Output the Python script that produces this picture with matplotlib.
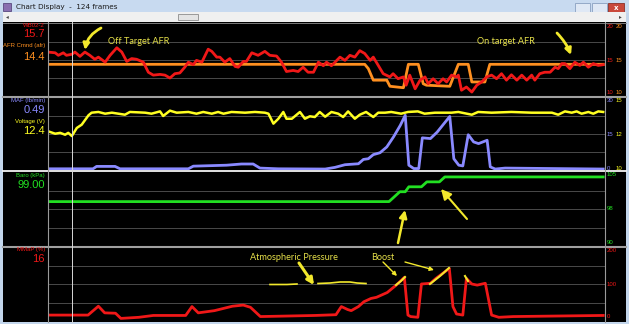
import matplotlib
matplotlib.use("Agg")
import matplotlib.pyplot as plt
import matplotlib.transforms as mtransforms
from matplotlib.patches import Rectangle, FancyArrowPatch
from matplotlib.lines import Line2D

W, H = 629, 324

# ---------------------------------------------------------------------------
# Logged data (frame index, value), read off the screenshot
wb_frames = [0, 1.6, 2.3, 3.4, 4.1, 5.3, 6.0, 7.1, 8.2, 9.3, 10.4, 11.2, 12.7, 13.8,
             15.3, 16.4, 17.5, 18.6, 19.7, 21.2, 22.3, 23.4, 24.9, 26.0, 27.1, 28.2,
             29.3, 30.4, 31.2, 32.3, 33.0, 34.2, 35.6, 36.4, 37.5, 38.2, 39.3, 40.4,
             41.6, 42.3, 43.4, 44.1, 45.3, 46.7, 48.2, 49.3, 50.8, 51.9, 53.0, 54.5,
             55.6, 56.7, 57.8, 59.0, 60.1, 61.2, 61.9, 63.0, 64.9, 66.0, 67.1, 68.2,
             69.3, 70.4, 71.6, 72.3, 73.4, 74.5, 76.0, 76.7, 77.8, 79.0, 79.6, 80.4,
             81.6, 82.7, 83.8, 84.5, 85.6, 86.7, 87.8, 88.6, 89.7, 90.8, 91.2, 91.9,
             93.0, 94.2, 95.3, 96.4, 97.5, 98.6, 99.7, 100.8, 101.9, 103.0, 104.2,
             105.3, 106.4, 107.5, 108.2, 109.3, 110.4, 111.6, 112.7, 113.4, 114.2,
             114.9, 116.0, 117.1, 118.2, 119.0, 120.1, 121.2, 122.3, 123.4]
wb_afr = [16.1, 16.0, 15.65, 16.0, 15.65, 15.8, 16.1, 15.5, 16.1, 15.65, 15.1, 15.4,
          14.7, 15.65, 16.7, 16.1, 14.8, 15.2, 15.1, 14.7, 13.3, 12.9, 13.0, 12.9,
          12.5, 13.1, 13.2, 14.0, 14.7, 14.35, 14.95, 14.7, 16.5, 16.2, 15.4, 15.4,
          14.7, 15.2, 14.1, 14.0, 14.8, 14.8, 16.0, 15.65, 16.2, 15.65, 15.55, 14.7,
          13.4, 13.55, 13.4, 14.0, 13.3, 13.3, 14.7, 14.2, 14.7, 14.2, 15.4, 14.95,
          15.65, 15.4, 16.3, 15.9, 14.95, 15.4, 14.25, 13.1, 12.65, 13.1, 12.4, 12.65,
          11.5, 12.9, 11.0, 12.2, 12.65, 11.7, 12.4, 11.7, 12.4, 11.95, 12.9, 12.65,
          12.9, 10.8, 11.25, 10.55, 11.5, 11.95, 12.65, 12.9, 12.4, 13.1, 12.2, 12.95,
          12.2, 12.9, 12.2, 12.9, 12.2, 13.1, 13.3, 13.3, 14.0, 13.8, 14.5, 14.5,
          13.8, 14.7, 14.25, 14.7, 14.0, 14.5, 14.25, 14.35]

cmd_frames = [0, 70.4, 71.2, 72.3, 75.3, 76.0, 79.0, 80.1, 82.3, 83.4, 84.1, 89.3,
              91.2, 93.4, 94.2, 97.1, 98.2, 123.4]
cmd_afr = [14.4, 14.4, 13.8, 12.2, 12.2, 11.35, 11.15, 14.4, 14.4, 11.7, 11.5, 11.35,
           14.4, 14.4, 11.95, 11.95, 14.4, 14.4]

volt_frames = [0, 1.6, 2.7, 3.8, 4.5, 5.3, 6.4, 7.5, 9.0, 9.7, 11.2, 12.7, 14.2, 17.1,
               18.2, 21.6, 23.0, 24.9, 25.6, 27.1, 28.6, 31.2, 33.0, 34.5, 36.4, 37.8,
               39.0, 40.8, 43.8, 46.0, 48.2, 49.0, 50.1, 51.2, 52.3, 53.0, 54.2, 56.0,
               57.1, 58.2, 59.3, 60.4, 61.6, 63.0, 64.5, 65.6, 66.7, 68.2, 69.3, 70.7,
               72.3, 73.4, 74.9, 76.3, 78.5, 80.0, 82.2, 83.7, 86.0, 89.7, 91.2, 94.2,
               95.6, 98.6, 103.0, 107.5, 112.0, 113.4, 114.9, 116.4, 117.5, 118.6,
               120.1, 121.2, 122.3, 123.4]
volt = [12.69, 12.52, 12.58, 12.45, 12.58, 12.36, 12.92, 13.15, 13.8, 13.98, 14.03,
        13.91, 13.98, 13.84, 14.03, 13.98, 13.91, 14.07, 13.75, 14.12, 13.98, 14.03,
        13.91, 14.03, 13.91, 14.03, 13.91, 14.03, 13.98, 14.03, 13.98, 13.91, 13.22,
        13.56, 14.03, 13.56, 13.56, 14.03, 13.56, 13.73, 13.68, 14.03, 13.7, 14.03,
        13.91, 13.68, 14.07, 13.56, 13.84, 14.03, 13.68, 13.98, 13.98, 14.03, 13.91,
        14.03, 14.07, 13.91, 13.98, 13.98, 14.03, 13.84, 14.03, 13.98, 14.03, 13.98,
        13.98, 13.84, 14.07, 13.98, 14.07, 13.91, 14.03, 13.91, 14.07, 14.03]

maf_frames = [0, 10.0, 10.8, 14.9, 16.0, 31.2, 32.3, 39.7, 43.0, 45.6, 47.1, 51.2,
              61.6, 63.8, 66.0, 69.0, 70.1, 71.2, 72.3, 73.8, 75.3, 76.8, 78.3, 79.4,
              80.2, 81.3, 82.4, 83.2, 85.0, 86.5, 88.0, 89.3, 90.2, 91.3, 92.2, 93.4,
              94.6, 95.7, 97.6, 98.3, 99.4, 101.6, 123.4]
maf = [0.5, 0.5, 1.5, 1.5, 0.5, 0.5, 1.6, 2.0, 2.5, 2.5, 0.8, 0.5, 0.4, 1.1, 2.2, 2.6,
       4.4, 4.7, 6.4, 7.2, 9.6, 13.8, 18.6, 22.8, 2.0, 0.6, 0.6, 13.4, 13.1, 15.8,
       19.3, 22.3, 4.7, 2.0, 1.7, 14.7, 11.7, 11.0, 12.4, 1.3, 0.4, 0.8, 0.4]

baro_frames = [0, 75.8, 78.2, 79.4, 80.2, 83.0, 84.2, 87.0, 88.2, 123.4]
baro = [99.0, 99.0, 101.0, 101.0, 102.0, 102.0, 103.0, 103.0, 104.0, 104.0]

map_frames = [0, 8.9, 11.2, 12.6, 15.0, 16.2, 20.2, 23.4, 30.6, 32.0, 33.4, 37.0,
              41.0, 43.4, 45.0, 47.2, 51.4, 59.4, 64.0, 65.2, 66.6, 67.4, 69.0, 70.2,
              71.8, 73.0, 75.4, 77.4, 79.2, 80.0, 80.6, 82.2, 83.0, 85.0, 86.2, 89.2,
              90.0, 90.8, 92.2, 93.0, 94.2, 95.4, 97.2, 98.6, 100.2, 103.4, 123.4]
map_val = [16, 16, 40, 22, 21, 7, 10, 15, 15, 39, 22, 28, 40, 43, 37, 12, 13, 15, 17,
           39, 31, 28, 39, 52, 61, 64, 77, 97, 118, 16, 12, 10, 100, 102, 115, 142, 39,
           19, 16, 115, 100, 97, 102, 16, 10, 12, 15]

RED, ORANGE, YELLOW, BLUE, GREEN = '#f01818', '#ff9020', '#ffff22', '#8a8aff', '#22e022'
GRID = '#4a4a4a'
ANNO = '#f2e82c'

###############################################################################
# Figure plus a transform that works in screenshot pixels (origin top-left)
fig = plt.figure(figsize=(W / 100, H / 100), dpi=100, facecolor='#c3d6ec')
px = mtransforms.Affine2D().scale(1 / W, -1 / H).translate(0, 1) + fig.transFigure


def rect(x0, y0, x1, y1, fc, ec='none', z=-5, lw=0.6):
    fig.add_artist(Rectangle((x0, y0), x1 - x0, y1 - y0, transform=px,
                             facecolor=fc, edgecolor=ec, lw=lw, zorder=z))


def line(xs, ys, color, lw=1.0, z=5):
    fig.add_artist(Line2D(xs, ys, transform=px, color=color, lw=lw, zorder=z))


def label(x, y, s, color, size, ha='right', **kw):
    fig.text(x, y, s, transform=px, color=color, fontsize=size, ha=ha,
             va='center', family='Liberation Sans', zorder=8, **kw)


# window chrome
rect(0, 0, W, 13, '#c8daf0')
rect(3, 3, 11, 11, '#8a6fb0', ec='#5a4a80')
fig.text(16, 6.5, 'Chart Display  -  124 frames', transform=px, fontsize=5.2,
         va='center', color='#1a1a1a', family='DejaVu Sans')
rect(575, 3, 590, 12, '#dfe8f5', ec='#8aa0c0')
rect(592, 3, 607, 12, '#dfe8f5', ec='#8aa0c0')
rect(608, 3, 624, 12, '#c9483b', ec='#8a3028')
fig.text(616, 7.5, 'x', transform=px, fontsize=5, ha='center', va='center',
         color='white', weight='bold')
rect(3, 12, 626, 22, '#f0f0f0')
rect(178, 14, 198, 20, '#e4e4e4', ec='#8c8c8c')
fig.text(6, 17, '\u25c2', transform=px, fontsize=4, va='center', color='#444')
fig.text(619, 17, '\u25b8', transform=px, fontsize=4, va='center', color='#444')
rect(3, 22, 626, 322, 'black')

###############################################################################
# The four stacked strip charts
panels = [(24, 96), (98, 170), (172, 246), (247, 321)]
left, right = 48, 605
axes = []
for top, bot in panels:
    ax = fig.add_axes([left / W, 1 - bot / H, (right - left) / W, (bot - top) / H])
    ax.set_facecolor('black')
    ax.set_xlim(0, 123.8)
    ax.set_xticks([])
    ax.set_yticks([])
    for s in ax.spines.values():
        s.set_visible(False)
    axes.append(ax)

ax1, ax2, ax3, ax4 = axes
ax1.set_ylim(10, 20)
for g in (12.5, 15, 17.5):
    ax1.axhline(g, color=GRID, lw=0.7)
ax1.plot(cmd_frames, cmd_afr, color=ORANGE, lw=2.0)
ax1.plot(wb_frames, wb_afr, color=RED, lw=2.0)

ax2.set_ylim(0, 30)
for g in (7.5, 15, 22.5):
    ax2.axhline(g, color=GRID, lw=0.7)
ax2.plot(maf_frames, maf, color=BLUE, lw=2.0)
ax2v = ax2.twinx()
ax2v.set_ylim(10, 15)
ax2v.set_yticks([])
for s in ax2v.spines.values():
    s.set_visible(False)
ax2v.plot(volt_frames, volt, color=YELLOW, lw=1.8)

ax3.set_ylim(90, 105)
for g in (93.75, 97.5, 101.25):
    ax3.axhline(g, color=GRID, lw=0.7)
ax3.plot(baro_frames, baro, color=GREEN, lw=2.0)

ax4.set_ylim(0, 200)
for g in (50, 100, 150):
    ax4.axhline(g, color=GRID, lw=0.7)
ax4.plot(map_frames, map_val, color=RED, lw=2.0)

###############################################################################
# Separators, frame lines and the cursor
line([3, 626], [22.5, 22.5], '#8c8c8c', 0.6)
line([3, 626], [97, 97], '#a0a0a0', 1.5)
line([3, 626], [171, 171], '#f4f4f4', 1.3)
line([3, 626], [246.5, 246.5], '#a0a0a0', 1.5)
line([47.5, 47.5], [22, 322], '#9a9a9a', 0.8)
line([605, 605], [22, 322], '#9a9a9a', 0.8)
line([72, 72], [22, 322], '#d8d8d8', 0.7)

# left read-outs
label(45, 25.5, 'WB02-2', RED, 4.3)
label(45, 34, '15.7', RED, 8)
label(45, 45, 'AFR Cmnd (afr)', ORANGE, 4.3)
label(45, 57, '14.4', ORANGE, 8)
label(45, 100.5, 'MAF (lb/min)', BLUE, 4.3)
label(45, 110, '0.49', BLUE, 8)
label(45, 121, 'Voltage (V)', YELLOW, 4.3)
label(45, 131, '12.4', YELLOW, 8)
label(45, 175, 'Baro (kPa)', GREEN, 4.3)
label(45, 185, '99.00', GREEN, 8)
label(45, 250, 'MMaP (%)', RED, 4.3)
label(45, 259.5, '16', RED, 8)

# right scale labels
for y, a, b in [(27, '20', '20'), (60, '15', '15'), (93, '10', '10')]:
    label(607, y, a, RED, 4.3, ha='left')
    label(616, y, b, ORANGE, 4.3, ha='left')
for y, a, b in [(100.5, '30', '15'), (134, '15', '12'), (168, '0', '10')]:
    label(607, y, a, BLUE, 4.3, ha='left')
    label(616, y, b, YELLOW, 4.3, ha='left')
for y, a in [(175, '105'), (208, '98'), (243, '90')]:
    label(607, y, a, GREEN, 4.3, ha='left')
for y, a in [(250, '200'), (284, '100'), (317, '0')]:
    label(607, y, a, RED, 4.3, ha='left')

###############################################################################
# Hand-drawn yellow notes
for x, y, s in [(108, 41, 'Off Target AFR'), (477, 42, 'On target AFR'),
                (250, 258, 'Atmospheric Pressure'), (371, 258, 'Boost')]:
    fig.text(x, y, s, transform=px, color='#e6e04a', fontsize=6.6, va='center',
             family='Lato', zorder=9)

arrows = [((101, 28), (85, 50), 2.0, 9, 0.25),
          ((557, 33), (571, 55), 2.0, 9, -0.1),
          ((398, 243), (405, 210), 1.8, 11, 0.0),
          ((467, 219), (441, 189), 1.5, 15, 0.0),
          ((299, 263), (314, 285), 2.2, 10, 0.0),
          ((383, 262), (397, 276), 1.0, 6, 0.0),
          ((405, 262), (434, 270), 1.0, 6, 0.0)]
for a, b, lw, ms, rad in arrows:
    fig.add_artist(FancyArrowPatch(a, b, transform=px, arrowstyle='-|>',
                                   mutation_scale=ms, lw=lw, color=ANNO,
                                   connectionstyle=f'arc3,rad={rad}',
                                   shrinkA=0, shrinkB=0, zorder=9))

line([270, 287, 297], [284.5, 284.5, 284], ANNO, 1.2, 9)
line([318, 330, 340, 350, 357, 366], [283.5, 283, 282, 282, 283, 283.5], ANNO, 1.2, 9)
line([396, 401, 405], [285, 281, 277], ANNO, 1.5, 9)
line([430, 440, 449], [284, 276, 268], ANNO, 1.5, 9)
line([465, 468], [276, 281], ANNO, 1.5, 9)

fig.savefig('out.png', dpi=100, facecolor=fig.get_facecolor())
